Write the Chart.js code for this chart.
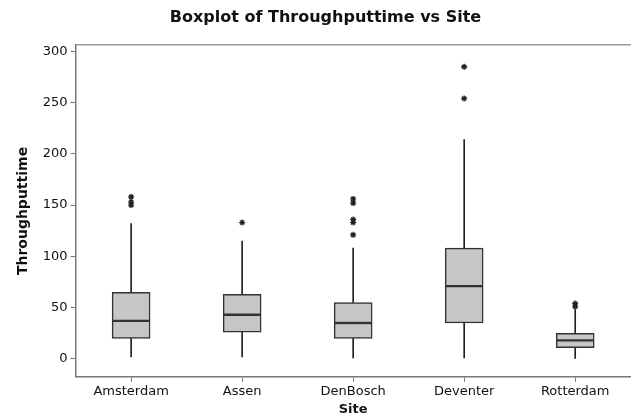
<!DOCTYPE html>
<html>
<head>
<meta charset="utf-8">
<script src="https://cdn.jsdelivr.net/npm/chart.js@4.4.1/dist/chart.umd.min.js"></script>
<style>
  html, body { margin: 0; padding: 0; background: #fff; overflow: hidden; }
  #wrap { width: 636px; height: 417px; }
</style>
</head>
<body>
<div id="wrap"><canvas id="mygraph"></canvas></div>
<script>
// boxplot numbers
const sites = ["Amsterdam", "Assen", "DenBosch", "Deventer", "Rotterdam"];
const whiskerLow = [2, 2, 1, 1, 0];
const q1 = [20, 26, 20, 35, 11];
const median = [37, 43, 35, 71, 18];
const q3 = [65, 63, 55, 108, 25];
const whiskerHigh = [132, 115, 108, 214, 48];

const outlierSite = ["Amsterdam", "Amsterdam", "Amsterdam", "Assen",
  "DenBosch", "DenBosch", "DenBosch", "DenBosch", "DenBosch",
  "Deventer", "Deventer", "Rotterdam", "Rotterdam"];
const outlierValue = [158, 153, 150, 133, 156, 152, 136, 133, 121, 285, 254, 54, 51];

const yTicks = [0, 50, 100, 150, 200, 250, 300];

const boxFill = "#c6c6c6";
const boxLine = "#333333";
const axisGray = "#777777";
const font = "DejaVu Sans";

var ctx = document.getElementById("mygraph");

var mygraph = new Chart(ctx, {
  type: "bar",
  data: {
    labels: sites,
    datasets: [
      {
        label: "outliers",
        type: "line",
        data: outlierSite.map((s, i) => ({ x: s, y: outlierValue[i] })),
        showLine: false,
        pointStyle: "star",
        pointRadius: 3,
        borderColor: "#222",
        borderWidth: 1.3,
        backgroundColor: "#222"
      },
      {
        label: "upper box",
        data: sites.map((s, i) => [median[i], q3[i]]),
        backgroundColor: boxFill,
        borderColor: boxLine,
        borderWidth: 1.5,
        borderSkipped: false,
        barThickness: 38,
        grouped: false
      },
      {
        label: "lower box",
        data: sites.map((s, i) => [q1[i], median[i]]),
        backgroundColor: boxFill,
        borderColor: boxLine,
        borderWidth: 1.5,
        borderSkipped: false,
        barThickness: 38,
        grouped: false
      },
      {
        label: "upper whisker",
        data: sites.map((s, i) => [q3[i], whiskerHigh[i]]),
        backgroundColor: "#222",
        borderWidth: 0,
        barThickness: 1,
        grouped: false
      },
      {
        label: "lower whisker",
        data: sites.map((s, i) => [whiskerLow[i], q1[i]]),
        backgroundColor: "#222",
        borderWidth: 0,
        barThickness: 1,
        grouped: false
      }
    ]
  },
  options: {
    responsive: true,
    maintainAspectRatio: false,
    animation: false,
    layout: { padding: { left: 15, top: 6, right: 0, bottom: 0 } },
    plugins: {
      legend: { display: false },
      tooltip: { enabled: false },
      title: {
        display: true,
        text: "Boxplot of Throughputtime vs Site",
        color: "#111",
        font: { family: font, size: 16, weight: "bold" },
        padding: { top: 2, bottom: 18 }
      }
    },
    scales: {
      x: {
        type: "category",
        offset: true,
        grid: { display: true, drawOnChartArea: false, drawTicks: true, tickLength: 5, offset: false, color: axisGray },
        border: { display: true, color: axisGray, width: 1.5 },
        ticks: { color: "#111", font: { family: font, size: 13 }, padding: 2 },
        title: { display: true, text: "Site", color: "#111", font: { family: font, size: 13, weight: "bold" }, padding: { top: 0, bottom: 0 } }
      },
      xTop: {
        type: "category",
        position: "top",
        labels: sites,
        grid: { display: false, drawTicks: false },
        border: { display: true, color: "#999", width: 1.5 },
        ticks: { display: false }
      },
      y: {
        min: -17.5,
        max: 306,
        afterBuildTicks: axis => { axis.ticks = yTicks.map(v => ({ value: v })); },
        grid: { display: true, drawOnChartArea: false, drawTicks: true, tickLength: 5, color: axisGray },
        border: { display: true, color: axisGray, width: 1.5 },
        ticks: { color: "#111", font: { family: font, size: 13 }, padding: 3 },
        title: { display: true, text: "Throughputtime", color: "#111", font: { family: font, size: 14, weight: "bold" }, padding: { top: 0, bottom: 8 } }
      }
    }
  }
});
</script>
</body>
</html>
